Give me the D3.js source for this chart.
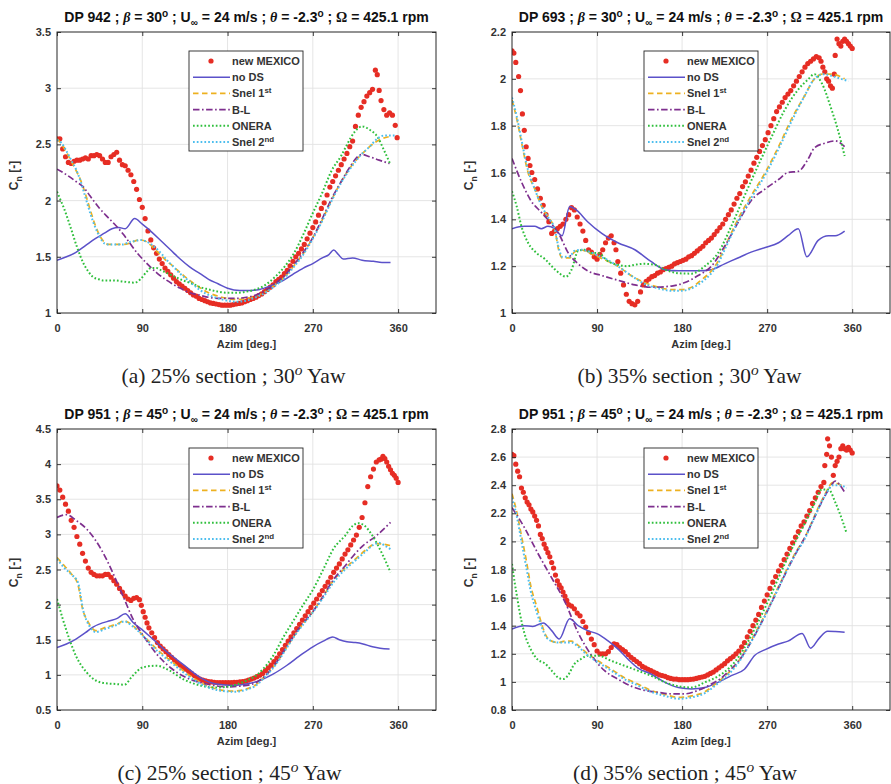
<!DOCTYPE html>
<html><head><meta charset="utf-8">
<script src="https://cdn.jsdelivr.net/npm/d3@7"></script>
<style>body{margin:0;background:#fff}svg{display:block}</style>
</head><body>
<svg id="chart" width="891" height="784"></svg>
<script>
// ---------------- DATA ----------------
const xTicks = [0, 90, 180, 270, 360];
const yTicksA = [1, 1.5, 2, 2.5, 3, 3.5];
const yTicksB = [1, 1.2, 1.4, 1.6, 1.8, 2, 2.2];
const yTicksC = [0.5, 1, 1.5, 2, 2.5, 3, 3.5, 4, 4.5];
const yTicksD = [0.8, 1, 1.2, 1.4, 1.6, 1.8, 2, 2.2, 2.4, 2.6, 2.8];
const dpLabels = ["DP 942", "DP 693", "DP 951", "DP 951"];
const betaVals = [30, 30, 45, 45];
const captionTexts = ["(a) 25% section ; 30", "(b) 35% section ; 30", "(c) 25% section ; 45", "(d) 35% section ; 45"];
const legendLabels = ["new MEXICO", "no DS", "Snel 1", "B-L", "ONERA", "Snel 2"];
const legendSups = ["", "", "st", "", "", "nd"];

// panel (a)
const mexA = [[0,2.55],[3,2.55],[6,2.46],[9,2.39],[12,2.34],[15,2.33],[18,2.35],[21,2.36],[24,2.36],[27,2.37],[30,2.38],[33,2.37],[36,2.40],[39,2.40],[42,2.41],[45,2.40],[48,2.37],[51,2.34],[54,2.34],[57,2.39],[60,2.41],[63,2.43],[66,2.36],[69,2.32],[72,2.31],[75,2.27],[78,2.23],[81,2.17],[84,2.10],[87,2.01],[90,1.94],[93,1.84],[96,1.73],[99,1.65],[102,1.58],[105,1.53],[108,1.48],[111,1.44],[114,1.40],[117,1.37],[120,1.34],[123,1.31],[126,1.28],[129,1.26],[132,1.24],[135,1.22],[138,1.20],[141,1.18],[144,1.16],[147,1.15],[150,1.13],[153,1.12],[156,1.11],[159,1.10],[162,1.09],[165,1.085],[168,1.08],[171,1.075],[174,1.07],[177,1.07],[180,1.07],[183,1.07],[186,1.075],[189,1.08],[192,1.085],[195,1.09],[198,1.10],[201,1.11],[204,1.12],[207,1.13],[210,1.14],[213,1.155],[216,1.17],[219,1.19],[222,1.21],[225,1.23],[228,1.25],[231,1.28],[234,1.30],[237,1.32],[240,1.35],[243,1.38],[246,1.42],[249,1.46],[252,1.50],[255,1.53],[258,1.57],[261,1.61],[264,1.66],[267,1.71],[270,1.76],[273,1.81],[276,1.87],[279,1.93],[282,1.98],[285,2.05],[288,2.12],[291,2.17],[294,2.22],[297,2.27],[300,2.32],[303,2.37],[306,2.42],[309,2.48],[312,2.53],[315,2.66],[318,2.76],[321,2.83],[324,2.88],[327,2.93],[330,2.96],[333,2.99],[336,3.16],[338,3.12],[340,2.98],[342,2.89],[345,2.81],[348,2.76],[351,2.78],[354,2.76],[357,2.67],[359,2.56]];
const noDSA = [[0,1.47],[10,1.50],[20,1.54],[30,1.60],[40,1.66],[50,1.71],[58,1.75],[65,1.76],[72,1.75],[82,1.84],[90,1.79],[100,1.72],[110,1.64],[120,1.56],[130,1.48],[140,1.41],[151,1.35],[160,1.30],[170,1.26],[180,1.22],[193,1.20],[205,1.20],[214,1.21],[225,1.24],[239,1.29],[250,1.35],[260,1.40],[270,1.44],[280,1.49],[287,1.52],[292,1.56],[297,1.52],[302,1.48],[312,1.49],[322,1.47],[334,1.46],[343,1.45],[352,1.45]];
const snel1A = [[0,2.55],[5,2.50],[10,2.43],[15,2.35],[20,2.27],[25,2.18],[30,2.06],[35,1.92],[40,1.79],[45,1.69],[50,1.63],[55,1.61],[62,1.61],[70,1.61],[76,1.62],[82,1.64],[88,1.65],[93,1.64],[98,1.61],[104,1.56],[110,1.51],[116,1.46],[122,1.42],[130,1.36],[140,1.29],[150,1.23],[160,1.18],[170,1.15],[180,1.13],[190,1.12],[200,1.13],[210,1.15],[220,1.19],[230,1.25],[240,1.32],[250,1.42],[260,1.53],[270,1.67],[280,1.83],[290,2.01],[300,2.17],[310,2.30],[320,2.40],[330,2.48],[340,2.54],[351,2.57]];
const blA = [[0,2.28],[10,2.23],[20,2.17],[28,2.12],[35,2.04],[45,1.93],[55,1.84],[63,1.77],[70,1.70],[77,1.62],[85,1.53],[95,1.44],[105,1.36],[116,1.29],[128,1.23],[140,1.18],[150,1.16],[160,1.14],[170,1.13],[180,1.13],[190,1.13],[200,1.14],[210,1.16],[220,1.20],[230,1.26],[240,1.33],[250,1.43],[260,1.54],[270,1.67],[280,1.84],[290,2.02],[300,2.17],[310,2.31],[316,2.38],[322,2.41],[330,2.39],[340,2.36],[351,2.33]];
const oneraA = [[0,2.08],[3,2.02],[7,1.94],[14,1.77],[21,1.59],[28,1.44],[33,1.37],[38,1.32],[44,1.30],[49,1.29],[60,1.29],[70,1.28],[82,1.27],[88,1.30],[94,1.36],[99,1.40],[105,1.40],[110,1.38],[120,1.34],[133,1.29],[143,1.26],[151,1.23],[160,1.21],[170,1.19],[180,1.18],[190,1.18],[200,1.19],[210,1.21],[220,1.25],[230,1.32],[240,1.41],[250,1.53],[260,1.70],[270,1.89],[280,2.07],[290,2.27],[300,2.40],[305,2.48],[310,2.56],[315,2.62],[322,2.66],[330,2.63],[338,2.57],[345,2.45],[352,2.32]];
const snel2A = [[0,2.54],[5,2.51],[10,2.44],[15,2.36],[20,2.28],[25,2.17],[30,2.03],[35,1.89],[40,1.77],[45,1.68],[50,1.62],[55,1.61],[62,1.61],[70,1.61],[76,1.63],[82,1.64],[88,1.65],[93,1.64],[98,1.62],[104,1.58],[110,1.53],[116,1.47],[122,1.42],[130,1.35],[140,1.28],[150,1.21],[160,1.16],[170,1.13],[180,1.11],[190,1.10],[200,1.11],[210,1.14],[220,1.18],[230,1.24],[240,1.31],[250,1.41],[260,1.52],[270,1.66],[280,1.82],[290,2.00],[300,2.16],[310,2.29],[320,2.40],[330,2.48],[338,2.55],[346,2.58],[358,2.58]];

// panel (b)
const mexB = [[0,2.12],[2,2.11],[4,2.07],[7,2.01],[9,1.95],[11,1.85],[13,1.78],[15,1.71],[17,1.66],[19,1.63],[21,1.60],[24,1.57],[27,1.53],[30,1.49],[33,1.46],[36,1.42],[39,1.39],[42,1.34],[45,1.35],[48,1.36],[51,1.37],[54,1.38],[57,1.40],[60,1.42],[63,1.45],[66,1.44],[69,1.41],[72,1.38],[75,1.35],[78,1.31],[81,1.27],[84,1.26],[87,1.24],[90,1.23],[93,1.25],[96,1.27],[99,1.30],[102,1.32],[105,1.33],[108,1.30],[110,1.27],[112,1.22],[115,1.17],[118,1.12],[121,1.08],[124,1.05],[127,1.04],[130,1.035],[133,1.05],[136,1.09],[139,1.12],[142,1.135],[145,1.145],[148,1.155],[151,1.16],[154,1.17],[157,1.175],[160,1.185],[163,1.19],[166,1.195],[169,1.20],[172,1.21],[175,1.215],[178,1.22],[181,1.225],[184,1.23],[187,1.24],[190,1.245],[193,1.255],[196,1.265],[199,1.275],[202,1.285],[205,1.30],[208,1.31],[211,1.32],[214,1.335],[217,1.35],[220,1.365],[223,1.38],[226,1.40],[229,1.42],[232,1.44],[235,1.465],[238,1.49],[241,1.51],[244,1.54],[247,1.56],[250,1.585],[253,1.61],[256,1.64],[259,1.665],[262,1.69],[265,1.715],[268,1.74],[271,1.77],[274,1.80],[277,1.83],[280,1.86],[283,1.88],[286,1.90],[289,1.92],[292,1.935],[295,1.95],[298,1.97],[301,1.99],[304,2.01],[307,2.03],[310,2.05],[313,2.065],[316,2.075],[319,2.085],[322,2.095],[325,2.09],[327,2.075],[329,2.05],[331,2.03],[333,2.00],[335,1.99],[337,1.97],[339,1.96],[341,2.02],[342,2.10],[344,2.17],[346,2.15],[348,2.14],[350,2.16],[352,2.17],[354,2.16],[356,2.15],[358,2.14],[360,2.13]];
const noDSB = [[0,1.36],[13,1.37],[24,1.37],[31,1.36],[38,1.37],[45,1.36],[53,1.33],[61,1.455],[68,1.44],[80,1.39],[95,1.34],[112,1.30],[130,1.27],[147,1.22],[162,1.185],[176,1.18],[197,1.18],[211,1.185],[225,1.21],[239,1.235],[253,1.26],[268,1.28],[282,1.30],[292,1.33],[303,1.36],[312,1.24],[324,1.31],[335,1.33],[342,1.33],[352,1.35]];
const snel1B = [[0,1.91],[5,1.83],[10,1.73],[17,1.60],[24,1.53],[31,1.46],[38,1.41],[45,1.36],[50,1.26],[53,1.235],[61,1.235],[66,1.26],[73,1.27],[80,1.26],[91,1.24],[102,1.22],[112,1.20],[126,1.16],[140,1.13],[155,1.11],[169,1.10],[179,1.10],[190,1.11],[200,1.14],[211,1.18],[218,1.22],[225,1.28],[239,1.40],[253,1.50],[268,1.60],[282,1.71],[296,1.83],[310,1.93],[320,2.00],[328,2.02],[338,2.02],[352,2.00]];
const blB = [[0,1.66],[10,1.56],[20,1.48],[31,1.43],[42,1.38],[50,1.335],[59,1.26],[70,1.21],[80,1.18],[95,1.16],[112,1.14],[130,1.12],[147,1.11],[169,1.115],[183,1.13],[197,1.16],[211,1.20],[225,1.285],[239,1.385],[253,1.48],[268,1.53],[282,1.57],[292,1.60],[303,1.605],[313,1.655],[320,1.705],[331,1.725],[342,1.735],[352,1.71]];
const oneraB = [[0,1.52],[5,1.455],[10,1.37],[17,1.30],[26,1.256],[35,1.23],[42,1.20],[50,1.17],[57,1.155],[63,1.185],[70,1.265],[77,1.27],[84,1.256],[91,1.256],[102,1.22],[112,1.206],[121,1.20],[130,1.206],[140,1.21],[151,1.206],[162,1.185],[176,1.17],[190,1.168],[204,1.20],[218,1.256],[232,1.37],[246,1.50],[260,1.626],[275,1.755],[289,1.87],[303,1.955],[313,1.996],[320,2.02],[328,1.98],[338,1.87],[345,1.78],[352,1.67]];
const snel2B = [[0,1.92],[5,1.84],[10,1.74],[17,1.61],[24,1.53],[31,1.46],[38,1.41],[45,1.36],[50,1.27],[53,1.24],[61,1.24],[66,1.265],[73,1.27],[80,1.265],[91,1.245],[102,1.225],[112,1.20],[126,1.16],[140,1.125],[155,1.105],[169,1.095],[179,1.095],[190,1.105],[200,1.13],[211,1.17],[218,1.21],[225,1.27],[239,1.39],[253,1.49],[268,1.59],[282,1.70],[296,1.82],[310,1.93],[320,2.00],[330,2.02],[340,2.01],[348,2.00],[356,1.99]];

// panel (c)
const mexC = [[0,3.69],[3,3.63],[6,3.53],[9,3.43],[12,3.33],[15,3.20],[18,3.10],[21,2.97],[24,2.86],[27,2.73],[30,2.62],[33,2.52],[36,2.46],[39,2.43],[42,2.41],[45,2.41],[48,2.41],[51,2.43],[54,2.43],[57,2.39],[60,2.34],[63,2.29],[66,2.23],[69,2.18],[72,2.12],[75,2.08],[78,2.06],[81,2.09],[84,2.10],[87,2.07],[89,1.99],[91,1.90],[93,1.82],[95,1.74],[97,1.67],[100,1.60],[103,1.53],[106,1.46],[109,1.41],[112,1.37],[115,1.33],[118,1.29],[121,1.25],[124,1.21],[127,1.17],[130,1.14],[133,1.11],[136,1.08],[139,1.05],[142,1.02],[145,0.99],[148,0.96],[151,0.94],[154,0.925],[157,0.915],[160,0.905],[163,0.90],[166,0.895],[169,0.89],[172,0.89],[175,0.89],[178,0.89],[181,0.89],[184,0.89],[187,0.895],[190,0.895],[193,0.90],[196,0.905],[199,0.91],[202,0.925],[205,0.94],[208,0.955],[211,0.975],[214,0.995],[217,1.02],[220,1.06],[223,1.10],[226,1.14],[229,1.19],[232,1.24],[235,1.30],[238,1.36],[241,1.42],[244,1.48],[247,1.54],[250,1.60],[253,1.66],[256,1.72],[259,1.78],[262,1.84],[265,1.90],[268,1.96],[271,2.02],[274,2.08],[277,2.14],[280,2.20],[283,2.26],[286,2.32],[289,2.39],[292,2.46],[295,2.52],[298,2.58],[301,2.65],[304,2.72],[307,2.78],[310,2.85],[313,2.92],[316,2.99],[319,3.10],[322,3.24],[325,3.45],[328,3.68],[331,3.82],[334,3.93],[337,4.03],[340,4.06],[342,4.07],[344,4.11],[346,4.08],[348,4.03],[350,3.97],[352,3.92],[354,3.87],[356,3.84],[358,3.80],[360,3.74]];
const noDSC = [[0,1.39],[10,1.44],[20,1.51],[30,1.60],[38,1.68],[48,1.74],[56,1.77],[63,1.80],[72,1.87],[80,1.75],[91,1.63],[101,1.51],[115,1.34],[133,1.15],[151,0.965],[168,0.87],[186,0.85],[200,0.87],[214,0.92],[228,1.01],[242,1.13],[256,1.27],[270,1.40],[281,1.48],[291,1.54],[298,1.50],[306,1.47],[315,1.46],[323,1.44],[333,1.40],[341,1.38],[351,1.37]];
const snel1C = [[0,2.67],[8,2.55],[15,2.44],[22,2.29],[27,1.94],[33,1.75],[41,1.63],[52,1.68],[63,1.72],[71,1.77],[80,1.70],[91,1.56],[105,1.37],[122,1.18],[140,0.99],[158,0.85],[175,0.78],[186,0.77],[200,0.80],[210,0.86],[220,0.99],[230,1.14],[240,1.34],[250,1.55],[260,1.73],[270,1.90],[280,2.10],[292,2.35],[304,2.52],[316,2.66],[326,2.78],[337,2.87],[345,2.86],[352,2.84]];
const blC = [[0,3.24],[10,3.28],[20,3.20],[31,3.08],[41,2.91],[52,2.65],[62,2.36],[71,2.08],[80,1.80],[91,1.56],[105,1.30],[122,1.08],[140,0.94],[158,0.87],[179,0.83],[200,0.85],[210,0.89],[220,0.99],[230,1.15],[240,1.35],[250,1.56],[260,1.74],[270,1.90],[280,2.10],[292,2.36],[304,2.55],[313,2.70],[323,2.84],[337,2.98],[352,3.17]];
const oneraC = [[0,2.08],[6,1.80],[13,1.51],[20,1.27],[31,1.04],[41,0.92],[52,0.88],[62,0.87],[71,0.86],[80,0.99],[91,1.11],[105,1.13],[119,1.06],[133,0.94],[151,0.85],[168,0.82],[186,0.85],[200,0.92],[210,0.99],[218,1.09],[228,1.27],[239,1.54],[250,1.78],[260,2.00],[270,2.21],[281,2.50],[292,2.80],[304,2.98],[312,3.12],[318,3.16],[324,3.13],[333,2.98],[344,2.70],[352,2.46]];
const snel2C = [[0,2.65],[8,2.52],[15,2.43],[22,2.32],[28,1.90],[34,1.70],[41,1.61],[52,1.66],[63,1.71],[71,1.76],[80,1.69],[91,1.55],[105,1.35],[122,1.16],[140,0.97],[158,0.83],[175,0.77],[186,0.76],[200,0.79],[210,0.85],[220,0.98],[230,1.13],[240,1.33],[250,1.54],[260,1.72],[270,1.89],[280,2.08],[292,2.32],[304,2.50],[316,2.64],[326,2.76],[334,2.85],[340,2.88],[346,2.84],[352,2.79]];

// panel (d)
const mexD = [[0,2.62],[2,2.61],[4,2.55],[6,2.50],[8,2.46],[10,2.38],[12,2.35],[14,2.31],[16,2.28],[18,2.26],[20,2.23],[22,2.21],[24,2.18],[26,2.15],[28,2.11],[30,2.05],[32,2.02],[34,1.98],[36,1.95],[38,1.92],[40,1.89],[42,1.85],[44,1.81],[46,1.76],[48,1.72],[50,1.69],[52,1.67],[54,1.64],[56,1.61],[58,1.58],[60,1.55],[63,1.54],[66,1.52],[69,1.49],[72,1.47],[75,1.43],[78,1.39],[81,1.35],[84,1.305],[87,1.265],[90,1.22],[93,1.20],[96,1.20],[99,1.20],[102,1.215],[105,1.245],[108,1.27],[111,1.265],[114,1.245],[117,1.23],[120,1.215],[123,1.195],[126,1.175],[129,1.16],[132,1.145],[135,1.13],[138,1.11],[141,1.10],[144,1.09],[147,1.08],[150,1.07],[153,1.06],[156,1.05],[159,1.045],[162,1.04],[165,1.03],[168,1.025],[171,1.02],[174,1.02],[177,1.016],[180,1.016],[183,1.016],[186,1.016],[189,1.018],[192,1.02],[195,1.025],[198,1.03],[201,1.035],[204,1.04],[207,1.05],[210,1.06],[213,1.07],[216,1.085],[219,1.10],[222,1.115],[225,1.13],[228,1.15],[231,1.165],[234,1.18],[237,1.20],[240,1.22],[243,1.25],[246,1.28],[249,1.32],[252,1.36],[255,1.40],[258,1.44],[261,1.48],[264,1.53],[267,1.575],[270,1.62],[273,1.665],[276,1.71],[279,1.75],[282,1.79],[285,1.83],[288,1.87],[291,1.91],[294,1.95],[297,1.99],[300,2.03],[303,2.07],[306,2.11],[309,2.14],[312,2.18],[315,2.22],[318,2.27],[321,2.31],[324,2.35],[327,2.39],[330,2.42],[331,2.54],[333,2.62],[334,2.73],[336,2.68],[338,2.60],[340,2.47],[342,2.54],[344,2.57],[346,2.60],[348,2.66],[350,2.68],[352,2.66],[354,2.65],[356,2.67],[358,2.65],[360,2.63]];
const noDSD = [[0,1.376],[13,1.40],[22,1.395],[33,1.42],[42,1.365],[50,1.305],[61,1.45],[70,1.40],[80,1.365],[91,1.34],[102,1.29],[112,1.235],[123,1.16],[133,1.10],[147,1.056],[162,0.997],[176,0.96],[190,0.95],[204,0.96],[218,0.997],[232,1.045],[246,1.09],[257,1.19],[268,1.23],[282,1.27],[292,1.29],[307,1.345],[316,1.24],[325,1.31],[334,1.36],[342,1.358],[352,1.353]];
const snel1D = [[0,2.34],[5,2.21],[10,2.04],[15,1.87],[20,1.68],[26,1.54],[31,1.42],[36,1.33],[42,1.29],[49,1.28],[56,1.29],[63,1.29],[70,1.26],[80,1.20],[91,1.15],[105,1.09],[119,1.03],[133,0.985],[147,0.94],[162,0.91],[176,0.89],[190,0.90],[204,0.93],[218,1.00],[230,1.07],[240,1.15],[250,1.26],[260,1.38],[270,1.51],[280,1.65],[290,1.79],[300,1.92],[310,2.03],[320,2.18],[330,2.32],[340,2.42],[345,2.41],[352,2.385]];
const blD = [[0,2.24],[13,2.10],[27,1.92],[42,1.74],[56,1.57],[70,1.35],[84,1.19],[98,1.08],[112,1.02],[126,0.97],[140,0.94],[155,0.925],[169,0.915],[183,0.915],[197,0.94],[211,0.985],[220,1.02],[230,1.08],[240,1.15],[250,1.25],[260,1.37],[270,1.50],[280,1.64],[290,1.78],[300,1.91],[310,2.03],[320,2.17],[330,2.31],[338,2.40],[342,2.43],[347,2.40],[352,2.35]];
const oneraD = [[0,1.84],[3,1.70],[5,1.62],[8,1.50],[13,1.35],[20,1.23],[27,1.16],[35,1.13],[42,1.08],[49,1.03],[54,1.02],[59,1.044],[66,1.127],[73,1.163],[80,1.187],[91,1.187],[105,1.15],[119,1.115],[133,1.08],[147,1.044],[162,0.997],[176,0.97],[190,0.96],[204,0.997],[218,1.04],[230,1.10],[240,1.18],[250,1.29],[260,1.42],[270,1.56],[280,1.71],[290,1.86],[300,2.00],[310,2.13],[320,2.27],[328,2.37],[335,2.37],[342,2.28],[349,2.16],[354,2.06]];
const snel2D = [[0,2.31],[5,2.18],[10,2.00],[15,1.82],[20,1.64],[26,1.50],[31,1.40],[36,1.32],[42,1.29],[49,1.28],[56,1.28],[63,1.28],[70,1.25],[80,1.19],[91,1.14],[105,1.08],[119,1.02],[133,0.975],[147,0.93],[162,0.90],[176,0.88],[190,0.89],[204,0.92],[218,0.99],[230,1.06],[240,1.14],[250,1.25],[260,1.37],[270,1.50],[280,1.64],[290,1.78],[300,1.91],[310,2.02],[320,2.17],[330,2.31],[340,2.40],[346,2.40],[354,2.38]];

// ---------------- LAYOUT / STYLE ----------------
const layout = [
  {l: 57,  t: 32,  w: 379, h: 281, capX: 233.5, capY: 383, yDomain: [1, 3.5],   yTicks: yTicksA},
  {l: 512, t: 32,  w: 378, h: 281, capX: 689.5, capY: 383, yDomain: [1, 2.2],   yTicks: yTicksB},
  {l: 57,  t: 429, w: 379, h: 281, capX: 229.5, capY: 780, yDomain: [0.5, 4.5], yTicks: yTicksC},
  {l: 512, t: 429, w: 378, h: 281, capX: 685,   capY: 780, yDomain: [0.8, 2.8], yTicks: yTicksD}
];
const panelSeries = [
  {mex: mexA, lines: [noDSA, snel1A, blA, oneraA, snel2A]},
  {mex: mexB, lines: [noDSB, snel1B, blB, oneraB, snel2B]},
  {mex: mexC, lines: [noDSC, snel1C, blC, oneraC, snel2C]},
  {mex: mexD, lines: [noDSD, snel1D, blD, oneraD, snel2D]}
];
const redColor = "#e62d24";
const lineStyles = [
  {color: "#5b51c9", w: 1.5, dash: null},
  {color: "#edb120", w: 1.7, dash: "5.5,3.5"},
  {color: "#7e2f8e", w: 1.7, dash: "6.5,2.5,1.6,2.5"},
  {color: "#2fbf3c", w: 2.0, dash: "1.7,2.1"},
  {color: "#4dbeee", w: 2.0, dash: "1.7,2.1"}
];
const SANS = "'Liberation Sans', Arial, Helvetica, sans-serif";
const SERIF = "'Liberation Serif', 'Times New Roman', serif";
const axisColor = "#262626";

const svg = d3.select("#chart");
svg.append("rect").attr("width", 891).attr("height", 784).attr("fill", "#fff");

function richText(g, parts, size, opts) {
  const t = g.append("text")
    .attr("x", opts.x).attr("y", opts.y)
    .attr("text-anchor", opts.anchor || "middle")
    .attr("font-family", opts.family)
    .attr("font-weight", opts.weight || "normal")
    .attr("fill", opts.fill || "#111")
    .attr("font-size", size);
  if (opts.transform) t.attr("transform", opts.transform);
  let shift = 0;
  parts.forEach(p => {
    const sp = t.append("tspan").text(p.t);
    const target = p.sup ? -0.38 * size : (p.sub ? 0.32 * size : 0);
    if (target !== shift) { sp.attr("dy", target - shift); shift = target; }
    sp.attr("font-size", (p.sup || p.sub) ? size * 0.72 : size);
    if (p.it) sp.attr("font-style", "italic");
    if (p.ff) sp.attr("font-family", p.ff);
  });
  return t;
}
function fittedText(g, parts, size, opts, targetW) {
  let t = richText(g, parts, size, opts);
  const bw = t.node().getBBox().width;
  if (bw > 0 && targetW) {
    t.remove();
    t = richText(g, parts, size * targetW / bw, opts);
  }
  return t;
}

layout.forEach((L, i) => {
  const g = svg.append("g");
  const x = d3.scaleLinear().domain([0, 400]).range([L.l, L.l + L.w]);
  const y = d3.scaleLinear().domain(L.yDomain).range([L.t + L.h, L.t]);

  g.append("rect").attr("x", L.l).attr("y", L.t).attr("width", L.w).attr("height", L.h).attr("fill", "#fff");

  // grid
  g.append("g").selectAll("line").data(xTicks.filter(v => v > 0)).join("line")
    .attr("x1", d => x(d)).attr("x2", d => x(d)).attr("y1", L.t).attr("y2", L.t + L.h)
    .attr("stroke", "#e2e2e2").attr("stroke-width", 0.9);
  g.append("g").selectAll("line").data(L.yTicks.slice(1, -1)).join("line")
    .attr("y1", d => y(d)).attr("y2", d => y(d)).attr("x1", L.l).attr("x2", L.l + L.w)
    .attr("stroke", "#e2e2e2").attr("stroke-width", 0.9);

  // data (clipped)
  const clipId = "clip" + i;
  svg.append("defs").append("clipPath").attr("id", clipId)
    .append("rect").attr("x", L.l).attr("y", L.t).attr("width", L.w).attr("height", L.h);
  const dg = g.append("g").attr("clip-path", `url(#${clipId})`);
  const S = panelSeries[i];
  dg.append("g").selectAll("circle").data(S.mex).join("circle")
    .attr("cx", d => x(d[0])).attr("cy", d => y(d[1])).attr("r", 2.6).attr("fill", redColor);
  const line = d3.line().x(d => x(d[0])).y(d => y(d[1])).curve(d3.curveMonotoneX);
  S.lines.forEach((arr, k) => {
    const st = lineStyles[k];
    const p = dg.append("path").attr("d", line(arr)).attr("fill", "none")
      .attr("stroke", st.color).attr("stroke-width", st.w).attr("stroke-linejoin", "round");
    if (st.dash) p.attr("stroke-dasharray", st.dash);
  });

  // axes
  const fmt = d3.format("~g");
  const ax = [
    g.append("g").attr("transform", `translate(0,${L.t + L.h})`)
      .call(d3.axisBottom(x).tickValues(xTicks).tickSize(-4).tickPadding(11).tickFormat(fmt)),
    g.append("g").attr("transform", `translate(${L.l},0)`)
      .call(d3.axisLeft(y).tickValues(L.yTicks).tickSize(-4).tickPadding(6).tickFormat(fmt)),
    g.append("g").attr("transform", `translate(0,${L.t})`)
      .call(d3.axisTop(x).tickValues(xTicks).tickSize(-4).tickFormat("")),
    g.append("g").attr("transform", `translate(${L.l + L.w},0)`)
      .call(d3.axisRight(y).tickValues(L.yTicks).tickSize(-4).tickFormat(""))
  ];
  ax.forEach(a => {
    a.select(".domain").remove();
    a.selectAll(".tick line").attr("stroke", axisColor).attr("stroke-width", 0.9);
    a.selectAll(".tick text").attr("font-family", SANS).attr("font-size", 11)
      .attr("font-weight", "bold").attr("fill", "#333");
  });
  g.append("rect").attr("x", L.l).attr("y", L.t).attr("width", L.w).attr("height", L.h)
    .attr("fill", "none").attr("stroke", axisColor).attr("stroke-width", 1);

  // axis labels
  g.append("text").attr("x", L.l + L.w / 2).attr("y", L.t + L.h + 35).attr("text-anchor", "middle")
    .attr("font-family", SANS).attr("font-size", 11).attr("font-weight", "bold").attr("fill", "#333").text("Azim [deg.]");
  const yl = [{t: "C"}, {t: "n", sub: 1}, {t: " [-]"}];
  const cx = L.l - 39, cy = L.t + L.h / 2 + 3;
  richText(g, yl, 12, {x: 0, y: 0, family: SANS, weight: "bold", fill: "#333", transform: `translate(${cx},${cy}) rotate(-90)`});

  // title
  const titleParts = [
    {t: dpLabels[i] + " ; "}, {t: "\u03B2", it: 1, ff: SERIF}, {t: " = " + betaVals[i]}, {t: "o", sup: 1},
    {t: " ; U"}, {t: "\u221E", sub: 1}, {t: " = 24 m/s ; "}, {t: "\u03B8", it: 1, ff: SERIF},
    {t: " = -2.3"}, {t: "o", sup: 1}, {t: " ; "}, {t: "\u03A9", ff: SERIF}, {t: " = 425.1 rpm"}
  ];
  fittedText(g, titleParts, 12, {x: L.l + L.w / 2, y: L.t - 10, family: SANS, weight: "bold", fill: "#111"}, 365);

  // legend
  const lg = g.append("g").attr("transform", `translate(${L.l + 132},${L.t + 19})`);
  lg.append("rect").attr("width", 114).attr("height", 100).attr("fill", "#fff")
    .attr("stroke", axisColor).attr("stroke-width", 0.9);
  legendLabels.forEach((lab, k) => {
    const ry = 10 + k * 16.2;
    if (k === 0) {
      lg.append("circle").attr("cx", 22).attr("cy", ry).attr("r", 2.6).attr("fill", redColor);
    } else {
      const st = lineStyles[k - 1];
      const ln = lg.append("line").attr("x1", 4).attr("x2", 41).attr("y1", ry).attr("y2", ry)
        .attr("stroke", st.color).attr("stroke-width", st.w);
      if (st.dash) ln.attr("stroke-dasharray", st.dash);
    }
    const parts = [{t: lab}];
    if (legendSups[k]) parts.push({t: legendSups[k], sup: 1});
    richText(lg, parts, 11, {x: 43, y: ry + 4, anchor: "start", family: SANS, weight: "bold", fill: "#333"});
  });

  // caption
  const capParts = [{t: captionTexts[i]}, {t: "o", sup: 1, it: 1}, {t: " Yaw"}];
  fittedText(svg, capParts, 18, {x: L.capX, y: L.capY, family: SERIF, fill: "#222"}, 224);
});
</script>
</body></html>
